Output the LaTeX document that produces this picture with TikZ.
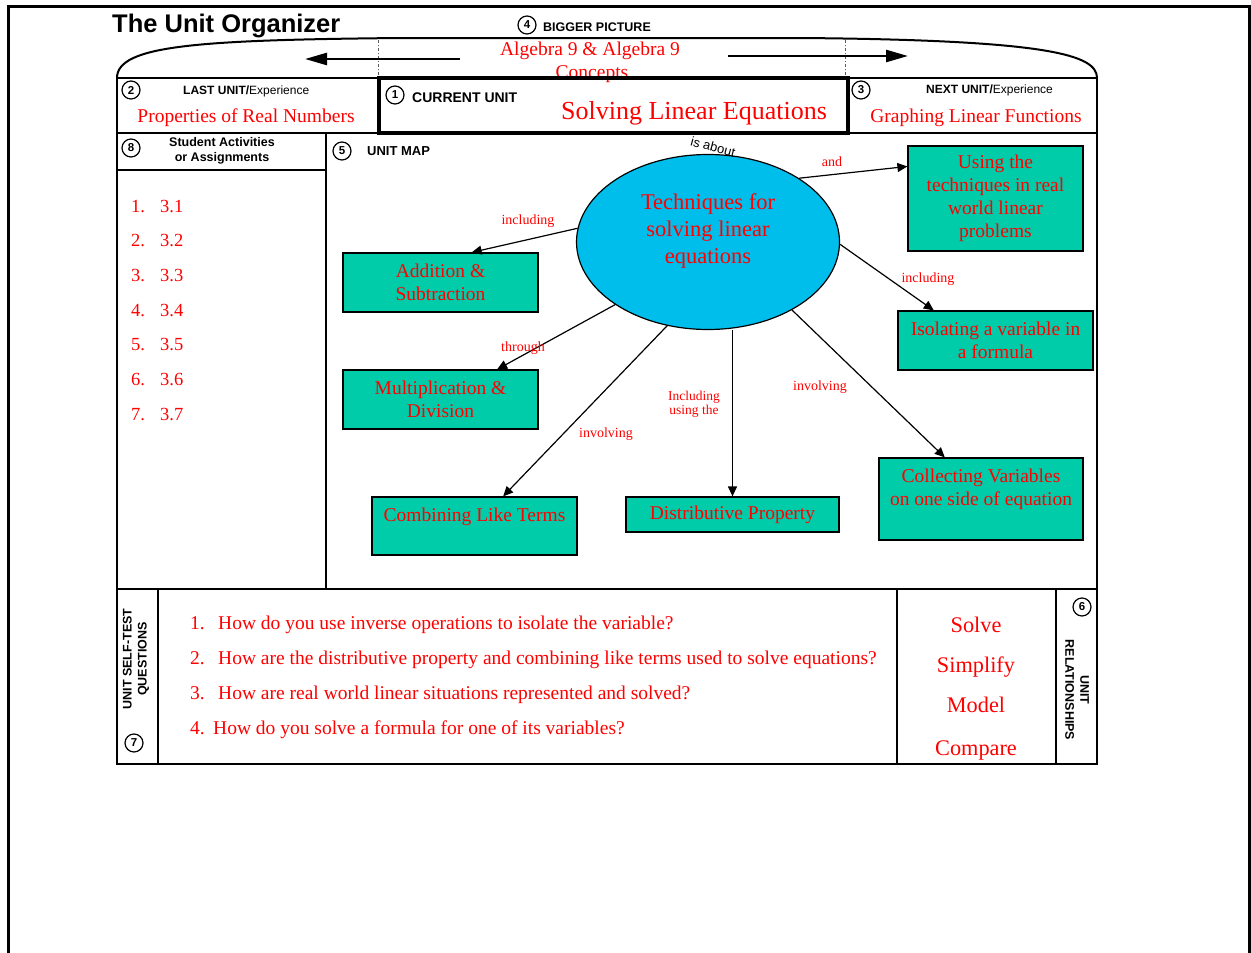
\documentclass[tikz,border=0pt]{standalone}
\usepackage{fontspec}
\setmainfont{Liberation Serif}
\setsansfont{Liberation Sans}
\usetikzlibrary{shapes.geometric,arrows.meta}
\definecolor{boxgreen}{RGB}{0,204,170}
\definecolor{ovalblue}{RGB}{0,190,235}
\tikzset{
  topic/.style={draw, line width=1.2pt, fill=boxgreen, text=red, align=center, inner sep=0pt, font=\fontsize{19.5}{23}\selectfont},
  link/.style={line width=1.2pt, -{Triangle[length=10pt,width=9pt]}},
  word/.style={text=red, font=\fontsize{14}{14}\selectfont},
  big/.style={text=red, inner sep=0pt, font=\fontsize{19.5}{23}\selectfont},
  head/.style={inner sep=0pt, font=\sffamily\bfseries\fontsize{12.5}{15}\selectfont},
  num/.style={circle, draw, line width=1.2pt, inner sep=0pt, minimum size=18pt, font=\sffamily\bfseries\fontsize{11.5}{11.5}\selectfont},
}
\begin{document}
\begin{tikzpicture}[x=1pt,y=-1pt]
\useasboundingbox (0,0) rectangle (1251,953);
\draw[line width=3pt] (8,953) -- (8,6) -- (1249,6) -- (1249,953);

\coordinate (tl) at (117,78);
\coordinate (tr) at (1097,78);
\coordinate (bl) at (117,764);
\coordinate (br) at (1097,764);

% bigger picture
\node[anchor=base west, inner sep=0pt, font=\sffamily\bfseries\fontsize{25.5}{28}\selectfont] (title) at (112,32) {The Unit Organizer};
\node[num] (n4) at (527,25) {4};
\node[head, anchor=base west] (bp) at (543,31) {BIGGER PICTURE};
\draw[line width=2pt] (tl) .. controls (117,45) and (200,40) .. (400,38) -- (800,38) .. controls (1050,40) and (1097,55) .. (tr);
\draw[line width=1pt, dash dot, gray!70!black] (378,40) -- (378,78);
\draw[line width=1pt, dash dot, gray!70!black] (845,40) -- (845,78);
\coordinate (la) at (460,59);
\coordinate (lb) at (305,59);
\coordinate (ra) at (728,56);
\coordinate (rb) at (908,56);
\draw[line width=2.5pt, -{Triangle[length=22pt,width=12pt]}] (la) -- (lb);
\draw[line width=2.5pt, -{Triangle[length=22pt,width=12pt]}] (ra) -- (rb);
\node[big, anchor=base] (alg) at (590,55) {Algebra 9 \& Algebra 9};
\node[big, anchor=base] (con) at (592,78) {Concepts};

% frame
\draw[line width=2pt] (tl) rectangle (br);
\draw[line width=2pt] (117,133) -- (1097,133);
\draw[line width=2pt] (326,133) -- (326,589);
\draw[line width=1.5pt] (117,170) -- (326,170);
\draw[line width=2pt] (117,589) -- (1097,589);
\draw[line width=2pt] (158,589) -- (158,764);
\draw[line width=2pt] (897,589) -- (897,764);
\draw[line width=2pt] (1056,589) -- (1056,764);
\draw[line width=4.5pt] (379,78) rectangle (848,133);

% header row
\node[num] (n2) at (131,90) {2};
\node[anchor=base west, inner sep=0pt, font=\sffamily\fontsize{12}{12}\selectfont] (last) at (183,94) {\bfseries LAST UNIT/\mdseries Experience};
\node[big, anchor=base] (prop) at (246,122) {Properties of Real Numbers};
\node[num] (n1) at (395,95) {1};
\node[head, anchor=base west, font=\sffamily\bfseries\fontsize{14}{14}\selectfont] (cur) at (412,102) {CURRENT UNIT};
\node[big, anchor=base, font=\fontsize{26}{28}\selectfont] (solv) at (694,119) {Solving Linear Equations};
\node[num] (n3) at (861,90) {3};
\node[anchor=base west, inner sep=0pt, font=\sffamily\fontsize{12}{12}\selectfont] (next) at (926,93) {\bfseries NEXT UNIT/\mdseries Experience};
\node[big, anchor=base] (graph) at (976,122) {Graphing Linear Functions};

% activities
\node[num] (n8) at (131,148) {8};
\node[head, align=center] (act) at (222,151) {Student Activities\\or Assignments};
\foreach \i in {1,...,7}
  \node[big, anchor=base west, font=\fontsize{18.5}{20}\selectfont] (a\i) at (131,{212+34.7*(\i-1)}) {\makebox[29pt][l]{\i.}3.\i};

% unit map
\node[num] (n5) at (342,151) {5};
\node[head, anchor=base west, font=\sffamily\bfseries\fontsize{13}{13}\selectfont] (map) at (367,155) {UNIT MAP};
\node[ellipse, draw, line width=1.2pt, fill=ovalblue, minimum width=263pt, minimum height=175pt, inner sep=0pt, text=red, align=center, font=\fontsize{22.5}{27}\selectfont] (ell) at (708,242) {Techniques for\\solving linear\\equations\\\mbox{}};
\node[font=\sffamily\fontsize{13}{13}\selectfont, rotate=-15] (about) at (713,147) {is about};

\node[topic, minimum width=195pt, minimum height=59pt] (add) at (440.5,282.5) {Addition \&\\Subtraction};
\node[topic, minimum width=195pt, minimum height=59pt] (mul) at (440.5,399.5) {Multiplication \&\\Division};
\node[topic, minimum width=205pt, minimum height=58pt] (comb) at (474.5,526) {Combining Like Terms\\\mbox{}};
\node[topic, minimum width=213pt, minimum height=35pt] (dist) at (732.5,514.5) {Distributive Property};
\node[topic, minimum width=204pt, minimum height=82pt] (coll) at (981,499) {Collecting Variables\\on one side of equation\\\mbox{}};
\node[topic, minimum width=195pt, minimum height=59pt] (iso) at (995.5,340.5) {Isolating a variable in\\a formula};
\node[topic, minimum width=175pt, minimum height=105pt] (use) at (995.5,198.5) {Using the\\techniques in real\\world linear\\problems};

\draw[link] (ell.174) -- (add.44);
\draw[link] (ell.214) -- (mul.28);
\draw[link] (ell.244) -- (comb.46);
\draw[link] (ell.south -| dist.north) -- (dist.north);
\draw[link] (ell.321) -- (coll.131);
\draw[link] (ell.359) -- (iso.154);
\draw[link] (ell.35) -- (use.160);

\node[word] (w1) at (528,221) {including};
\node[word] (w2) at (523,348) {through};
\node[word] (w3) at (606,434) {involving};
\node[word, align=center, font=\fontsize{13.5}{14}\selectfont] (w4) at (694,404) {Including\\using the};
\node[word] (w5) at (820,387) {involving};
\node[word] (w6) at (928,279) {including};
\node[word] (w7) at (832,162) {and};

% self-test questions
\node[head, align=center, rotate=90] (st) at (136,659) {UNIT SELF-TEST\\QUESTIONS};
\node[num] (n7) at (134,743) {7};
\node[big, anchor=base west, font=\fontsize{19.5}{20}\selectfont] (q1) at (190,629) {\makebox[28pt][l]{1.}How do you use inverse operations to isolate the variable?};
\node[big, anchor=base west, font=\fontsize{19.5}{20}\selectfont] (q2) at (190,664) {\makebox[28pt][l]{2.}How are the distributive property and combining like terms used to solve equations?};
\node[big, anchor=base west, font=\fontsize{19.5}{20}\selectfont] (q3) at (190,699) {\makebox[28pt][l]{3.}How are real world linear situations represented and solved?};
\node[big, anchor=base west, font=\fontsize{19.5}{20}\selectfont] (q4) at (190,734) {\makebox[23pt][l]{4.}How do you solve a formula for one of its variables?};

% relationships
\node[big, anchor=base, font=\fontsize{22.3}{24}\selectfont] (r1) at (976,632) {Solve};
\node[big, anchor=base, font=\fontsize{22.3}{24}\selectfont] (r2) at (976,672) {Simplify};
\node[big, anchor=base, font=\fontsize{22.3}{24}\selectfont] (r3) at (976,712) {Model};
\node[big, anchor=base, font=\fontsize{22.3}{24}\selectfont] (r4) at (976,755) {Compare};
\node[num] (n6) at (1082,607) {6};
\node[head, align=center, rotate=-90] (rel) at (1077,690) {UNIT\\RELATIONSHIPS};

\end{tikzpicture}
\end{document}
